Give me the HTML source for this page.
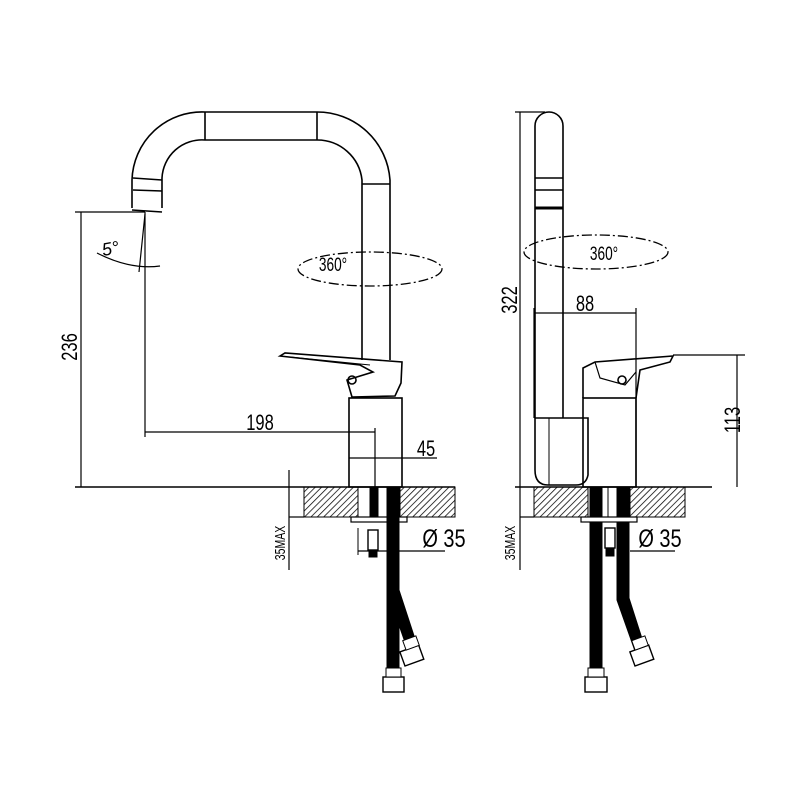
<!DOCTYPE html>
<html><head><meta charset="utf-8"><style>html,body{margin:0;padding:0;background:#fff}svg{display:block}</style></head><body>
<svg width="800" height="800" viewBox="0 0 800 800" xmlns="http://www.w3.org/2000/svg" font-family="Liberation Sans Narrow, Liberation Sans, sans-serif">
<defs>
<pattern id="h" width="4.5" height="4.5" patternUnits="userSpaceOnUse" patternTransform="rotate(45)"><line x1="0" y1="0" x2="0" y2="4.5" stroke="#000" stroke-width="1.5"/></pattern>
</defs>
<g fill="none" stroke="#000" stroke-width="1.6">
<path d="M132,208 L132,180 A70,70 0 0 1 205,112 L317,112 A73,73 0 0 1 390,180 L390,360"/>
<path d="M162,208 L162,178 A40,40 0 0 1 205,140 L317,140 A45,45 0 0 1 362,180 L362,360"/>
<line x1="205" y1="112" x2="205" y2="140"/><line x1="317" y1="112" x2="317" y2="140"/>
<line x1="362" y1="184" x2="390" y2="184"/>
<line x1="133" y1="178" x2="162" y2="180"/><line x1="133" y1="190" x2="162" y2="191"/>
<line x1="132" y1="210" x2="162" y2="212"/>
<path d="M280,356 L285,353 L402,362 L401,383 L395,396 L352,397 L347,380 L373,372 L360,365 Z"/>
<path d="M290,357 L370,365" stroke-width="1"/>
<circle cx="352" cy="380" r="4"/>
<rect x="349" y="398" width="53" height="89"/>
<line x1="75" y1="212" x2="145" y2="212" stroke-width="1.2"/>
<line x1="81" y1="212" x2="81" y2="487" stroke-width="1.2"/>
<line x1="145" y1="212" x2="145" y2="437" stroke-width="1.2"/>
<line x1="145" y1="214" x2="139" y2="272" stroke-width="1.2"/>
<path d="M97,253 Q130,270 160,266" stroke-width="1.2"/>
<line x1="145" y1="432" x2="375" y2="432" stroke-width="1.2"/>
<line x1="375" y1="428" x2="375" y2="487" stroke-width="1.2"/>
<line x1="349" y1="458" x2="437" y2="458" stroke-width="1.2"/>
<line x1="75" y1="487" x2="455" y2="487" stroke-width="1.6"/>
<line x1="289" y1="470" x2="289" y2="570" stroke-width="1.2"/>
<line x1="289" y1="517" x2="304" y2="517" stroke-width="1.2"/>
<ellipse cx="370" cy="269" rx="72" ry="17" stroke-width="1.3" stroke-dasharray="10,3,2,3"/>
<path d="M535,418 L535,126 A14,14 0 0 1 563,126 L563,418"/>
<line x1="535" y1="178" x2="563" y2="178"/><line x1="535" y1="190" x2="563" y2="190"/>
<line x1="535" y1="208" x2="563" y2="208" stroke-width="3"/>
<path d="M535,418 L588,418 L588,475 Q586,485 576,485 L548,485 Q535,485 535,470 Z"/>
<line x1="549" y1="418" x2="549" y2="485" stroke-width="1"/>
<rect x="583" y="398" width="53" height="89"/>
<path d="M583,398 L583,368 L595,362 L673,356 L670,362 L640,370 L636,398"/>
<path d="M595,362 L600,378 L625,385 L636,372" stroke-width="1.2"/>
<circle cx="622" cy="380" r="4"/>
<line x1="515" y1="112" x2="545" y2="112" stroke-width="1.2"/>
<line x1="520" y1="112" x2="520" y2="487" stroke-width="1.2"/>
<line x1="534" y1="308" x2="534" y2="418" stroke-width="1.2"/>
<line x1="636" y1="308" x2="636" y2="487" stroke-width="1.2"/>
<line x1="534" y1="313" x2="636" y2="313" stroke-width="1.2"/>
<line x1="673" y1="355" x2="745" y2="355" stroke-width="1.2"/>
<line x1="737" y1="355" x2="737" y2="487" stroke-width="1.2"/>
<line x1="515" y1="487" x2="712" y2="487" stroke-width="1.6"/>
<line x1="520" y1="487" x2="520" y2="570" stroke-width="1.2"/>
<line x1="520" y1="517" x2="534" y2="517" stroke-width="1.2"/>
<ellipse cx="596" cy="252" rx="72" ry="17" stroke-width="1.3" stroke-dasharray="10,3,2,3"/>
</g>
<g stroke="#000" stroke-width="1">
<rect x="304" y="487" width="54" height="30" fill="url(#h)"/>
<rect x="400" y="487" width="55" height="30" fill="url(#h)"/>
<rect x="534" y="487" width="54" height="30" fill="url(#h)"/>
<rect x="630" y="487" width="55" height="30" fill="url(#h)"/>
</g>
<g stroke="#000">
<rect x="370" y="487" width="8" height="30" fill="#000"/>
<rect x="351" y="517" width="56" height="5" fill="#fff" stroke-width="1.2"/>
<rect x="368" y="530" width="10" height="20" fill="#fff" stroke-width="1.4"/>
<rect x="369" y="550" width="8" height="7" fill="#000"/>
<path d="M387,487 L399,487 L399,590 L417,645 L407,648 L399,625 L399,675 L387,675 Z" fill="#000"/>
<rect x="383" y="677" width="21" height="15" fill="#fff" stroke-width="1.4"/>
<rect x="386" y="668" width="15" height="9" fill="#fff" stroke-width="1"/>
<rect x="402" y="648" width="20" height="15" fill="#fff" stroke-width="1.4" transform="rotate(-20 412 656)"/>
<rect x="404" y="638" width="14" height="10" fill="#fff" stroke-width="1" transform="rotate(-20 411 643)"/>
<line x1="358" y1="528" x2="358" y2="555" stroke-width="1"/>
<line x1="358" y1="551" x2="445" y2="551" stroke-width="1.2"/>
<path d="M590,487 L602,487 L602,675 L590,675 Z" fill="#000"/>
<path d="M617,487 L629,487 L629,598 L645,648 L635,651 L617,600 Z" fill="#000"/>
<line x1="608" y1="487" x2="608" y2="517" stroke-width="1"/>
<rect x="581" y="517" width="56" height="5" fill="#fff" stroke-width="1.2"/>
<rect x="605" y="528" width="10" height="20" fill="#fff" stroke-width="1.4"/>
<rect x="606" y="548" width="8" height="8" fill="#000"/>
<rect x="585" y="677" width="22" height="15" fill="#fff" stroke-width="1.4"/>
<rect x="588" y="668" width="16" height="9" fill="#fff" stroke-width="1"/>
<rect x="632" y="648" width="20" height="15" fill="#fff" stroke-width="1.4" transform="rotate(-20 642 656)"/>
<rect x="633" y="638" width="14" height="10" fill="#fff" stroke-width="1" transform="rotate(-20 640 643)"/>
<line x1="630" y1="551" x2="675" y2="551" stroke-width="1.2"/>
</g>
<g fill="#000" font-size="22">
<text transform="translate(260 430) scale(0.75 1)" text-anchor="middle">198</text>
<text transform="translate(426 456) scale(0.75 1)" text-anchor="middle">45</text>
<text transform="translate(585 311) scale(0.75 1)" text-anchor="middle">88</text>
<text transform="translate(77 347) rotate(-90) scale(0.75 1)" text-anchor="middle">236</text>
<text transform="translate(517 300) rotate(-90) scale(0.75 1)" text-anchor="middle">322</text>
<text transform="translate(740 420) rotate(-90) scale(0.75 1)" text-anchor="middle">113</text>
<text transform="translate(444 547) scale(0.8 1)" text-anchor="middle" font-size="25">Ø 35</text>
<text transform="translate(660 547) scale(0.8 1)" text-anchor="middle" font-size="25">Ø 35</text>
<text transform="translate(333 271) scale(0.72 1)" text-anchor="middle" font-size="19">360°</text>
<text transform="translate(604 260) scale(0.72 1)" text-anchor="middle" font-size="19">360°</text>
<text transform="translate(103 256) rotate(-10)" font-size="18" font-style="italic">5°</text>
<text transform="translate(285 543) rotate(-90) scale(0.7 1)" text-anchor="middle" font-size="15">35MAX</text>
<text transform="translate(515 543) rotate(-90) scale(0.7 1)" text-anchor="middle" font-size="15">35MAX</text>
</g>
</svg>
</body></html>
